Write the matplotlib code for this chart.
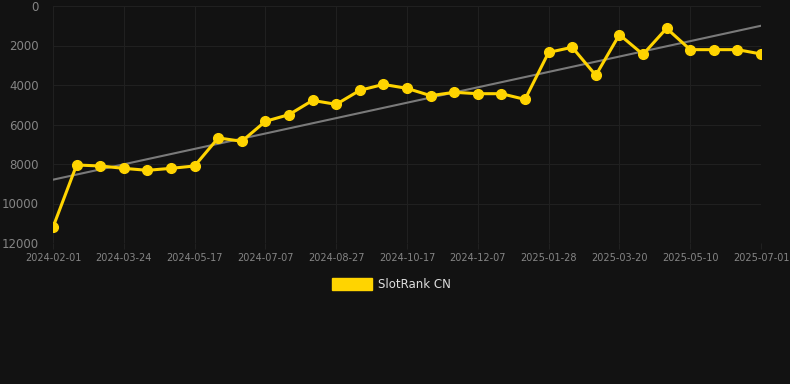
import numpy as np
import matplotlib.pyplot as plt

# tick labels shown under every third point
tickLabels = ["2024-02-01", "2024-03-24", "2024-05-17", "2024-07-07", "2024-08-27",
              "2024-10-17", "2024-12-07", "2025-01-28", "2025-03-20", "2025-05-10",
              "2025-07-01"]

# rank values (lower is better, axis inverted)
rankValues = [11200, 8050, 8100, 8220, 8320, 8220, 8100, 6680, 6850, 5840,
              5500, 4780, 4980, 4270, 3970, 4170, 4540, 4370, 4440, 4440,
              4730, 2350, 2090, 3510, 1450, 2450, 1130, 2210, 2210, 2210,
              2430]

seriesName = "SlotRank CN"

def main():
    bg = "#121212"
    fig = plt.figure(figsize=(7.9, 3.84), dpi=100, facecolor=bg)
    ax = fig.add_axes([53 / 790, 1 - 243 / 384, (761 - 53) / 790, (243 - 6) / 384])
    ax.set_facecolor(bg)

    xs = np.arange(len(rankValues))
    ys = np.array(rankValues, dtype=float)

    # linear trend
    slope, intercept = np.polyfit(xs, ys, 1)
    ax.plot([xs[0], xs[-1]], [intercept, slope * xs[-1] + intercept],
            color="#7a7a7a", linewidth=1.5, zorder=2)

    ax.plot(xs, ys, color="#FFD400", linewidth=2.2, marker="o",
            markersize=7, zorder=3, solid_joinstyle="round")

    ax.set_xlim(0, len(rankValues) - 1)
    ax.set_ylim(12000, 0)
    ax.set_yticks(np.arange(0, 12001, 2000))
    ax.set_xticks(xs[::3])
    ax.set_xticklabels(tickLabels)

    ax.grid(True, color="#202020", linewidth=0.8)
    ax.tick_params(axis="x", colors="#202020", labelcolor="#858585", labelsize=7,
                   length=4, pad=3)
    ax.tick_params(axis="y", colors="#202020", labelcolor="#858585", labelsize=8.5,
                   length=0, pad=10)
    for s in ax.spines.values():
        s.set_visible(False)

    # legend drawn as a colored box and label
    fig.patches.append(plt.Rectangle((332 / 790, 1 - 290 / 384), 40 / 790, 12 / 384,
                                     transform=fig.transFigure, color="#FFD400"))
    fig.text(378 / 790, 1 - 284 / 384, seriesName, color="#dddddd", fontsize=8.5,
             va="center", ha="left")

    fig.savefig("out.png", dpi=100, facecolor=bg)

main()
